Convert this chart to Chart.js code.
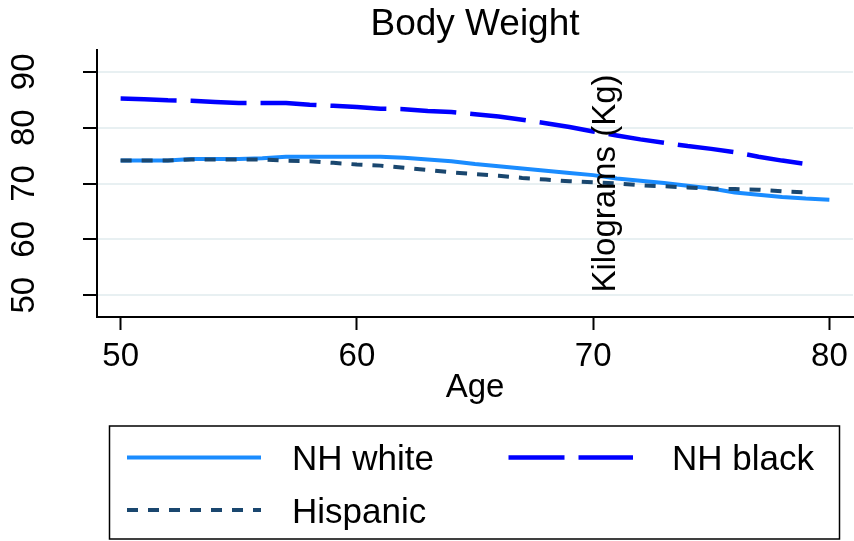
<!DOCTYPE html>
<html>
<head>
<meta charset="utf-8">
<script src="https://cdn.jsdelivr.net/npm/chart.js@4.4.1/dist/chart.umd.min.js"></script>
<style>
  html, body { margin: 0; padding: 0; background: #ffffff; }
  #wrap { width: 854px; height: 541px; }
</style>
</head>
<body>
<div id="wrap"><canvas id="c" width="854" height="541"></canvas></div>
<script>
// ---- data ----
const ages = [50,51,52,53,54,55,56,57,58,59,60,61,62,63,64,65,66,67,68,69,70,71,72,73,74,75,76,77,78,79,80];
const nhWhite = [74.1,74.1,74.1,74.4,74.4,74.4,74.5,74.8,74.8,74.8,74.8,74.8,74.6,74.3,74.0,73.5,73.1,72.7,72.3,71.9,71.5,70.9,70.5,70.1,69.6,69.1,68.4,68.0,67.6,67.3,67.1];
const nhBlack = [85.2,85.1,84.9,84.8,84.6,84.4,84.4,84.4,84.1,83.9,83.7,83.4,83.3,83.0,82.8,82.4,82.0,81.4,80.8,80.1,79.3,78.6,77.9,77.3,76.7,76.2,75.6,74.8,74.1,73.5,null];
const hispanic = [74.1,74.1,74.1,74.3,74.3,74.3,74.3,74.1,74.0,73.7,73.4,73.2,72.8,72.4,72.0,71.7,71.4,71.0,70.7,70.4,70.2,70.0,69.7,69.5,69.3,69.1,69.0,68.9,68.6,68.4,null];
const xTicks = [50,60,70,80];
const yTicks = [50,60,70,80,90];
const seriesNames = ['NH white','NH black','Hispanic'];
const titleText = 'Body Weight';
const xTitle = 'Age';
const yTitle = 'Kilograms (Kg)';

const FONT = "'Liberation Sans', Arial, Helvetica, sans-serif";
const pts = arr => ages.map((a, i) => ({x: a, y: arr[i]})).filter(p => p.y !== null);

const styles = [
  {color: '#1a8cff', dash: [], width: 4},
  {color: '#0000ff', dash: [56, 14], width: 4.5},
  {color: '#1a476f', dash: [11, 10], width: 4}
];

const customLayer = {
  id: 'customLayer',
  afterDraw(chart) {
    const ctx = chart.ctx;
    const ca = chart.chartArea;
    // y-axis title (Stata places it inside the plot here)
    ctx.save();
    ctx.translate(ca.left + 508.6, (ca.top + ca.bottom) / 2);
    ctx.rotate(-Math.PI / 2);
    ctx.font = '33px ' + FONT;
    ctx.fillStyle = '#000';
    ctx.textAlign = 'center';
    ctx.textBaseline = 'middle';
    ctx.fillText(yTitle, 0, 0);
    ctx.restore();

    // legend
    ctx.save();
    ctx.strokeStyle = '#000';
    ctx.lineWidth = 1.5;
    ctx.strokeRect(109.5, 426, 730, 113);
    const entries = [
      {i: 0, x1: 127, x2: 261, y: 457.5, tx: 292, ty: 470},
      {i: 1, x1: 508.5, x2: 633, y: 457.5, tx: 672, ty: 470},
      {i: 2, x1: 127, x2: 261, y: 510, tx: 292, ty: 522.5}
    ];
    entries.forEach(e => {
      const ds = chart.data.datasets[e.i];
      ctx.beginPath();
      ctx.setLineDash(ds.borderDash || []);
      ctx.lineDashOffset = 0;
      ctx.lineCap = 'butt';
      ctx.strokeStyle = ds.borderColor;
      ctx.lineWidth = ds.borderWidth;
      ctx.moveTo(e.x1, e.y);
      ctx.lineTo(e.x2, e.y);
      ctx.stroke();
      ctx.setLineDash([]);
      ctx.font = '35px ' + FONT;
      ctx.fillStyle = '#000';
      ctx.textAlign = 'left';
      ctx.textBaseline = 'alphabetic';
      ctx.fillText(ds.label, e.tx, e.ty);
    });
    ctx.restore();
  }
};

new Chart(document.getElementById('c'), {
  type: 'line',
  data: {
    datasets: [
      {label: seriesNames[0], data: pts(nhWhite), borderColor: styles[0].color, borderDash: styles[0].dash, borderWidth: styles[0].width, order: 2},
      {label: seriesNames[1], data: pts(nhBlack), borderColor: styles[1].color, borderDash: styles[1].dash, borderWidth: styles[1].width, order: 1},
      {label: seriesNames[2], data: pts(hispanic), borderColor: styles[2].color, borderDash: styles[2].dash, borderWidth: styles[2].width, order: 0}
    ].map(d => Object.assign(d, {pointRadius: 0, tension: 0, fill: false, borderCapStyle: 'butt', borderJoinStyle: 'round'}))
  },
  options: {
    responsive: false,
    animation: false,
    devicePixelRatio: 1,
    layout: {padding: {top: 0, left: 0, right: 1, bottom: 133}},
    plugins: {
      legend: {display: false},
      tooltip: {enabled: false},
      title: {
        display: true,
        text: titleText,
        fullSize: false,
        color: '#000',
        font: {family: FONT, size: 37, weight: 'normal', lineHeight: 1.2},
        padding: {top: 3, bottom: 2.6}
      }
    },
    scales: {
      x: {
        type: 'linear',
        min: 49,
        max: 81,
        afterBuildTicks: s => { s.ticks = xTicks.map(v => ({value: v})); },
        afterFit: s => { s.height = 91; s.paddingLeft = 0; s.paddingRight = 0; },
        border: {display: true, color: '#000', width: 2},
        grid: {drawOnChartArea: false, drawTicks: true, tickLength: 13, tickColor: '#000', tickWidth: 2},
        ticks: {color: '#000', padding: 7, maxRotation: 0, autoSkip: false, font: {family: FONT, size: 33, lineHeight: 1.2}},
        title: {display: true, text: xTitle, color: '#000', padding: 0, font: {family: FONT, size: 33, lineHeight: 1.2}}
      },
      y: {
        type: 'linear',
        min: 46.1,
        max: 93.9,
        afterBuildTicks: s => { s.ticks = yTicks.map(v => ({value: v})); },
        afterFit: s => { s.width = 97; s.paddingTop = 0; s.paddingBottom = 0; },
        border: {display: true, color: '#000', width: 2},
        grid: {drawOnChartArea: true, color: '#e8f0f2', lineWidth: 2, drawTicks: true, tickLength: 14, tickColor: '#000', tickWidth: 2},
        ticks: {color: '#000', padding: 40, minRotation: 90, maxRotation: 90, crossAlign: 'center', autoSkip: false, font: {family: FONT, size: 33, lineHeight: 1.2}}
      }
    }
  },
  plugins: [customLayer]
});
</script>
</body>
</html>
